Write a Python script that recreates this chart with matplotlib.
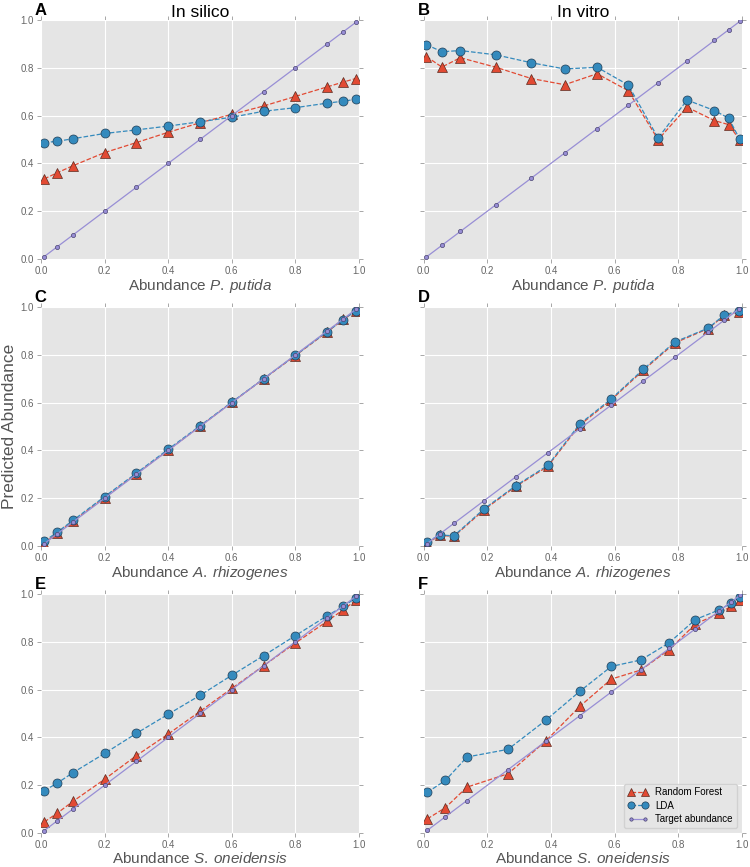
import numpy as np
import matplotlib
matplotlib.use('Agg')
import matplotlib.pyplot as plt

plt.rcParams['font.family'] = ['Liberation Sans', 'DejaVu Sans']
plt.rcParams['mathtext.fontset'] = 'custom'
plt.rcParams['mathtext.it'] = 'Liberation Sans:italic'
plt.rcParams['mathtext.rm'] = 'Liberation Sans'

# panel A - in silico P. putida
x_a = [0.01, 0.05, 0.1, 0.2, 0.3, 0.4, 0.5, 0.6, 0.7, 0.8, 0.9, 0.95, 0.99]
rf_a = [0.335, 0.36, 0.39, 0.445, 0.487, 0.53, 0.57, 0.605, 0.64, 0.68, 0.72, 0.74, 0.755]
lda_a = [0.487, 0.492, 0.503, 0.525, 0.54, 0.556, 0.574, 0.593, 0.618, 0.633, 0.652, 0.66, 0.668]

# panel B - in vitro P. putida
x_b = [0.008, 0.057, 0.115, 0.227, 0.338, 0.443, 0.545, 0.643, 0.737, 0.828, 0.914, 0.959, 0.994]
rf_b = [0.847, 0.803, 0.842, 0.802, 0.755, 0.729, 0.775, 0.704, 0.499, 0.635, 0.579, 0.562, 0.497]
lda_b = [0.897, 0.867, 0.872, 0.854, 0.821, 0.795, 0.802, 0.728, 0.506, 0.665, 0.621, 0.589, 0.5]

# panel C - in silico A. rhizogenes
x_c = [0.01, 0.05, 0.1, 0.2, 0.3, 0.4, 0.5, 0.6, 0.7, 0.8, 0.9, 0.95, 0.99]
rf_c = [0.01, 0.055, 0.103, 0.203, 0.302, 0.401, 0.501, 0.601, 0.699, 0.797, 0.896, 0.948, 0.983]
lda_c = [0.02, 0.057, 0.107, 0.207, 0.305, 0.405, 0.503, 0.602, 0.70, 0.798, 0.897, 0.947, 0.985]

# panel D - in vitro A. rhizogenes
x_d = [0.01, 0.05, 0.095, 0.19, 0.29, 0.39, 0.49, 0.59, 0.69, 0.79, 0.895, 0.945, 0.99]
rf_d = [0.01, 0.045, 0.04, 0.152, 0.25, 0.333, 0.505, 0.612, 0.735, 0.85, 0.91, 0.965, 0.98]
lda_d = [0.017, 0.046, 0.043, 0.156, 0.253, 0.337, 0.51, 0.616, 0.739, 0.854, 0.912, 0.967, 0.983]

# panel E - in silico S. oneidensis
x_e = [0.01, 0.05, 0.1, 0.2, 0.3, 0.4, 0.5, 0.6, 0.7, 0.8, 0.9, 0.95, 0.99]
rf_e = [0.046, 0.082, 0.132, 0.225, 0.324, 0.414, 0.509, 0.605, 0.70, 0.795, 0.886, 0.934, 0.973]
lda_e = [0.177, 0.208, 0.252, 0.333, 0.417, 0.497, 0.576, 0.66, 0.742, 0.826, 0.909, 0.948, 0.983]

# panel F - in vitro S. oneidensis
x_f = [0.011, 0.068, 0.136, 0.265, 0.383, 0.491, 0.59, 0.683, 0.772, 0.854, 0.93, 0.966, 0.994]
rf_f = [0.059, 0.106, 0.192, 0.248, 0.384, 0.53, 0.644, 0.682, 0.767, 0.874, 0.92, 0.948, 0.973]
lda_f = [0.17, 0.22, 0.318, 0.35, 0.471, 0.593, 0.697, 0.724, 0.796, 0.893, 0.934, 0.961, 0.986]

panels = [
    ('A', x_a, rf_a, lda_a, 'P. putida'),
    ('B', x_b, rf_b, lda_b, 'P. putida'),
    ('C', x_c, rf_c, lda_c, 'A. rhizogenes'),
    ('D', x_d, rf_d, lda_d, 'A. rhizogenes'),
    ('E', x_e, rf_e, lda_e, 'S. oneidensis'),
    ('F', x_f, rf_f, lda_f, 'S. oneidensis'),
]

RED = '#E24A33'
BLUE = '#348ABD'
PURPLE = '#988ED5'
GRAY = '#555555'

fig = plt.figure(figsize=(7.5, 8.67), dpi=100)
lefts = [0.0547, 0.565]
bottoms = [0.7013, 0.3702, 0.0392]
w, h = 0.424, 0.2757

axes = []
for i, (letter, x, rf, lda, species) in enumerate(panels):
    col = i % 2
    row = i // 2
    ax = fig.add_axes([lefts[col], bottoms[row], w, h])
    ax.set_facecolor('#E5E5E5')
    for s in ax.spines.values():
        s.set_visible(False)
    ax.grid(True, color='white', linewidth=0.8)
    ax.set_axisbelow(True)

    ax.plot(x, rf, '--', color=RED, linewidth=0.9, marker='^', markersize=6.5,
            markerfacecolor=RED, markeredgecolor='#5a2a20', markeredgewidth=0.5,
            label='Random Forest')
    ax.plot(x, lda, '--', color=BLUE, linewidth=0.9, marker='o', markersize=6.5,
            markerfacecolor=BLUE, markeredgecolor='#1f3d55', markeredgewidth=0.5,
            label='LDA')
    ax.plot(x, x, '-', color=PURPLE, linewidth=0.9, marker='o', markersize=3,
            markerfacecolor=PURPLE, markeredgecolor='#4a4470', markeredgewidth=0.5,
            label='Target abundance')

    ax.set_xlim(0, 1)
    ax.set_ylim(0, 1)
    ax.set_xticks(np.arange(0, 1.01, 0.2))
    ax.set_yticks(np.arange(0, 1.01, 0.2))
    ax.tick_params(direction='out', length=3, width=0.6, color='#999999',
                   labelcolor='#666666', labelsize=7, top=True, right=True, pad=2)
    if col == 1:
        ax.set_yticklabels([])
    sp = species.split(' ')
    ax.set_xlabel('Abundance $\\it{' + sp[0] + '}\\:\\it{' + sp[1] + '}$',
                  fontsize=11, color=GRAY, labelpad=1)
    ax.text(-0.02, 1.01, letter, transform=ax.transAxes, fontsize=12,
            fontweight='bold', ha='left', va='bottom')
    axes.append(ax)

axes[0].set_title('In silico', fontsize=12.5, pad=2)
axes[1].set_title('In vitro', fontsize=12.5, pad=2)
axes[2].set_ylabel('Predicted Abundance', fontsize=12.5, color=GRAY)
axes[2].yaxis.set_label_coords(-0.075, 0.5)

leg = axes[5].legend(loc=4, numpoints=2, fontsize=7, frameon=True, markerscale=0.8,
                     borderpad=0.4, labelspacing=0.35, handlelength=2)
leg.get_frame().set_facecolor('#E5E5E5')
leg.get_frame().set_edgecolor('#CCCCCC')

plt.savefig('out.png', dpi=100)
